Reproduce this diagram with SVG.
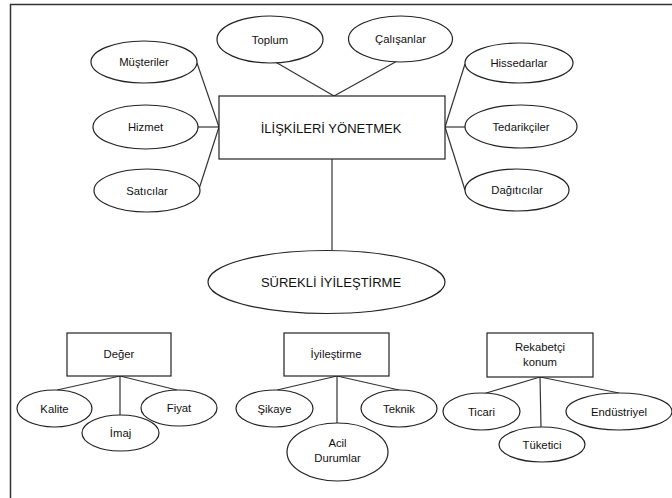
<svg xmlns="http://www.w3.org/2000/svg" width="672" height="498" viewBox="0 0 672 498">
<style>
.s{fill:#fff;stroke:#222;stroke-width:1.2}
.c line{stroke:#333;stroke-width:1.2}
text{font-family:"Liberation Sans",Arial,sans-serif;fill:#111;text-anchor:middle}
.t{font-size:11.3px}
.b{font-size:13px}
</style>
<rect x="0" y="0" width="672" height="498" fill="#fff"/>
<path d="M10.5 498 V4.5 H672" fill="none" stroke="#333" stroke-width="1.5"/>
<g class="c" id="connectors">
<line x1="197" y1="63" x2="219" y2="127"/>
<line x1="198" y1="127" x2="219" y2="127"/>
<line x1="199" y1="189" x2="219" y2="127"/>
<line x1="272" y1="60" x2="334" y2="96"/>
<line x1="399" y1="60" x2="334" y2="96"/>
<line x1="465" y1="64" x2="445" y2="127"/>
<line x1="465" y1="127" x2="445" y2="127"/>
<line x1="465" y1="190" x2="445" y2="127"/>
<line x1="332" y1="159" x2="332" y2="251"/>
<line x1="120" y1="376" x2="57" y2="390"/>
<line x1="120" y1="376" x2="120" y2="415"/>
<line x1="120" y1="376" x2="177" y2="390"/>
<line x1="337" y1="376" x2="277" y2="390"/>
<line x1="337" y1="376" x2="337" y2="423"/>
<line x1="337" y1="376" x2="399" y2="390"/>
<line x1="540" y1="377" x2="483" y2="394"/>
<line x1="540" y1="377" x2="541" y2="427"/>
<line x1="540" y1="377" x2="619" y2="393"/>
</g>
<g id="toplum"><ellipse class="s" cx="270" cy="39.5" rx="53" ry="23.5"/><text class="t" x="270" y="43.5">Toplum</text></g>
<g id="calisanlar"><ellipse class="s" cx="400.5" cy="39" rx="52" ry="23"/><text class="t" x="400.5" y="43">Çalışanlar</text></g>
<g id="musteriler"><ellipse class="s" cx="144" cy="62" rx="53" ry="21"/><text class="t" x="144" y="66">Müşteriler</text></g>
<g id="hizmet"><ellipse class="s" cx="145.5" cy="127" rx="52.5" ry="22"/><text class="t" x="145.5" y="131">Hizmet</text></g>
<g id="saticilar"><ellipse class="s" cx="147" cy="190.5" rx="53" ry="21.5"/><text class="t" x="147" y="194.5">Satıcılar</text></g>
<g id="iliskiler"><rect class="s" x="219" y="96" width="226" height="63"/><text class="b" x="331" y="132.5">İLİŞKİLERİ YÖNETMEK</text></g>
<g id="hissedarlar"><ellipse class="s" cx="519" cy="63" rx="54" ry="20"/><text class="t" x="519" y="67">Hissedarlar</text></g>
<g id="tedarikciler"><ellipse class="s" cx="521" cy="126.5" rx="56" ry="21.5"/><text class="t" x="521" y="130.5">Tedarikçiler</text></g>
<g id="dagiticilar"><ellipse class="s" cx="517" cy="190" rx="52" ry="21"/><text class="t" x="517" y="194">Dağıtıcılar</text></g>
<g id="surekli"><ellipse class="s" cx="326.5" cy="282" rx="118.5" ry="31.5"/><text class="b" x="331" y="286.5">SÜREKLİ İYİLEŞTİRME</text></g>
<g id="deger"><rect class="s" x="67" y="333" width="104" height="43"/><text class="t" x="119" y="358">Değer</text></g>
<g id="kalite"><ellipse class="s" cx="54.5" cy="408.5" rx="37.5" ry="18.5"/><text class="t" x="54.5" y="412.5">Kalite</text></g>
<g id="imaj"><ellipse class="s" cx="120.5" cy="433" rx="38.5" ry="18"/><text class="t" x="120.5" y="437">İmaj</text></g>
<g id="fiyat"><ellipse class="s" cx="179" cy="408" rx="38" ry="18"/><text class="t" x="179" y="412">Fiyat</text></g>
<g id="iyilestirme"><rect class="s" x="284" y="333" width="105" height="43"/><text class="t" x="336" y="358">İyileştirme</text></g>
<g id="sikaye"><ellipse class="s" cx="274.5" cy="408.5" rx="38.5" ry="18.5"/><text class="t" x="274.5" y="412.5">Şikaye</text></g>
<g id="acil"><ellipse class="s" cx="337.5" cy="452" rx="50.5" ry="29"/><text class="t" x="337.5" y="447">Acil</text><text class="t" x="337.5" y="462">Durumlar</text></g>
<g id="teknik"><ellipse class="s" cx="399" cy="408.5" rx="38" ry="18.5"/><text class="t" x="399" y="412.5">Teknik</text></g>
<g id="rekabetci"><rect class="s" x="487" y="333" width="106" height="44"/><text class="t" x="540" y="351">Rekabetçi</text><text class="t" x="540" y="366">konum</text></g>
<g id="ticari"><ellipse class="s" cx="481.5" cy="411.5" rx="38.5" ry="18.5"/><text class="t" x="481.5" y="415.5">Ticari</text></g>
<g id="tuketici"><ellipse class="s" cx="542" cy="444.5" rx="43" ry="17.5"/><text class="t" x="542" y="448.5">Tüketici</text></g>
<g id="endustriyel"><ellipse class="s" cx="619" cy="411.5" rx="53" ry="18.5"/><text class="t" x="619" y="415.5">Endüstriyel</text></g>
</svg>
